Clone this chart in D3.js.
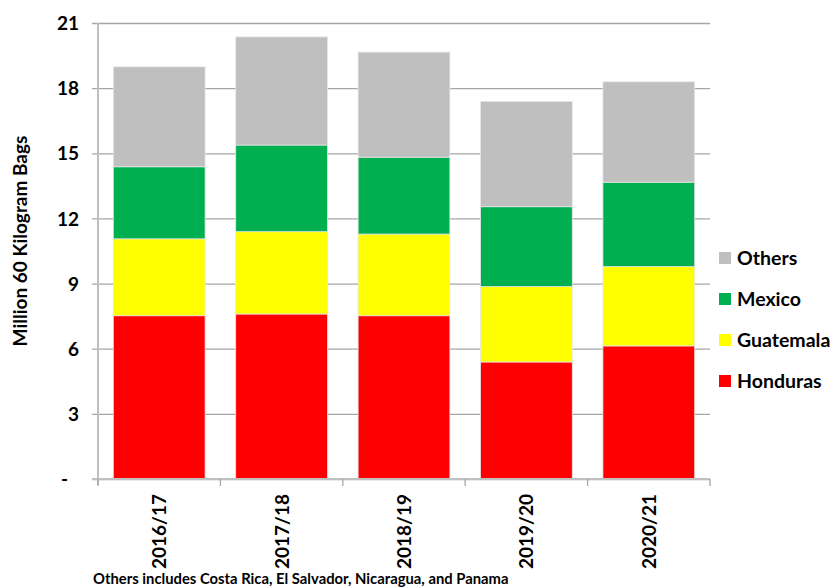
<!DOCTYPE html>
<html>
<head>
<meta charset="utf-8">
<script src="https://cdn.jsdelivr.net/npm/d3@7"></script>
<style>
  html, body { margin: 0; padding: 0; background: #fff; }
  svg { display: block; }
  text { font-family: Lato, "Open Sans", sans-serif; font-weight: bold; fill: #000; }
</style>
</head>
<body>
<svg id="chart" width="834" height="588"></svg>
<script>
const categories = ["2016/17", "2017/18", "2018/19", "2019/20", "2020/21"];
const honduras  = [7.52, 7.60, 7.52, 5.39, 6.13];
const guatemala = [3.54, 3.79, 3.76, 3.47, 3.65];
const mexico    = [3.32, 3.99, 3.54, 3.68, 3.89];
const others    = [4.60, 4.98, 4.84, 4.85, 4.62];
const seriesNames = ["Honduras", "Guatemala", "Mexico", "Others"];
const seriesColors = ["#FF0000", "#FFFF00", "#00B050", "#BFBFBF"];
const yTicks = [0, 3, 6, 9, 12, 15, 18, 21];
const yLabel = "Million 60 Kilogram Bags";
const footnote = "Others includes Costa Rica, El Salvador, Nicaragua, and Panama";

const seriesValues = [honduras, guatemala, mexico, others];
const rows = categories.map((c, i) => {
  const r = { cat: c };
  seriesNames.forEach((s, k) => r[s] = seriesValues[k][i]);
  return r;
});

const svg = d3.select("#chart");
const plotL = 98, plotR = 710, plotT = 23, plotB = 479;

const x = d3.scaleBand().domain(categories).range([plotL, plotR])
  .paddingInner(0.25).paddingOuter(0.125);
const y = d3.scaleLinear().domain([0, 21]).range([plotB, plotT]);

// gridlines + y ticks
const yAxis = d3.axisLeft(y).tickValues(yTicks)
  .tickSize(-(plotR - plotL)).tickSizeOuter(0)
  .tickPadding(19)
  .tickFormat(d => d === 0 ? "-" : d);
const gy = svg.append("g").attr("transform", `translate(${plotL},0)`).call(yAxis);
gy.select(".domain").remove();
gy.selectAll(".tick line").attr("x1", -6).attr("stroke", "#A6A6A6").attr("stroke-width", 1.3);
gy.selectAll(".tick text").style("font-size", "19px").attr("dy", "0.35em")
  .attr("dx", d => d === 0 ? -11 : 0);

// stacked bars
const stack = d3.stack().keys(seriesNames)(rows);
svg.append("g").selectAll("g").data(stack).join("g")
  .attr("fill", (d, i) => seriesColors[i])
  .selectAll("rect").data(d => d).join("rect")
  .attr("x", d => x(d.data.cat))
  .attr("width", x.bandwidth())
  .attr("y", d => y(d[1]))
  .attr("height", d => y(d[0]) - y(d[1]))
  .attr("stroke", "#E6E6E6").attr("stroke-width", 0.8);

// axis lines
svg.append("line").attr("x1", plotL).attr("x2", plotL).attr("y1", plotT).attr("y2", plotB + 6)
  .attr("stroke", "#BFBFBF").attr("stroke-width", 2);
svg.append("line").attr("x1", plotL - 6).attr("x2", plotR).attr("y1", plotB).attr("y2", plotB)
  .attr("stroke", "#BFBFBF").attr("stroke-width", 2);

// x category boundary ticks
const step = x.step();
const bounds = d3.range(categories.length + 1).map(i => x(categories[0]) - x.paddingOuter() * step + i * step);
svg.append("g").selectAll("line").data(bounds).join("line")
  .attr("x1", d => d).attr("x2", d => d)
  .attr("y1", plotB).attr("y2", plotB + 7)
  .attr("stroke", "#A6A6A6").attr("stroke-width", 1.3);

// x labels
svg.append("g").selectAll("text").data(categories).join("text")
  .attr("transform", d => `translate(${x(d) + x.bandwidth() / 2 + 7},${494}) rotate(-90)`)
  .attr("text-anchor", "end")
  .style("font-size", "19px")
  .text(d => d);

// y label
svg.append("text")
  .attr("transform", `translate(27,241) rotate(-90)`)
  .attr("text-anchor", "middle")
  .style("font-size", "19px")
  .text(yLabel);

// legend
const legendOrder = [3, 2, 1, 0];
const lg = svg.append("g").selectAll("g").data(legendOrder).join("g")
  .attr("transform", (d, i) => `translate(719,${258 + i * 41})`);
lg.append("rect").attr("x", 0).attr("y", -6).attr("width", 12).attr("height", 12)
  .attr("fill", d => seriesColors[d]);
lg.append("text").attr("x", 18).attr("dy", "0.36em")
  .style("font-size", "19.5px")
  .text(d => seriesNames[d]);

// footnote
svg.append("text").attr("x", 93).attr("y", 584)
  .style("font-size", "14.8px")
  .text(footnote);
</script>
</body>
</html>
